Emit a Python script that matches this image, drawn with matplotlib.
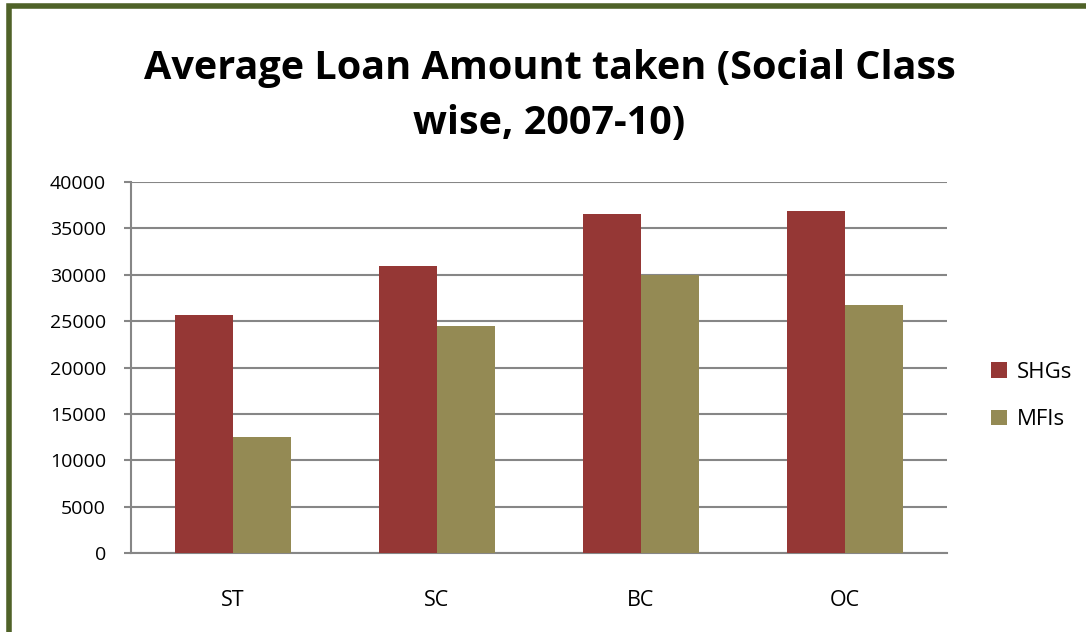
import numpy as np
import matplotlib.pyplot as plt
from matplotlib.patches import Rectangle

# average loan amount by social class
classes = ['ST', 'SC', 'BC', 'OC']
shgs = [25700, 30900, 36600, 36900]
mfis = [12500, 24500, 30000, 26700]
yticks = [0, 5000, 10000, 15000, 20000, 25000, 30000, 35000, 40000]

red = '#953735'
olive = '#948A54'
grid = '#868686'

plt.rcParams['font.family'] = ['Open Sans', 'DejaVu Sans']

fig = plt.figure(figsize=(10.86, 6.32), dpi=100)
ax = fig.add_axes([0.1206, 0.125, 0.7514, 0.587])

x = np.arange(len(classes))
w = 0.286
ax.bar(x - w / 2, shgs, w, color=red, label='SHGs', zorder=3)
ax.bar(x + w / 2, mfis, w, color=olive, label='MFIs', zorder=3)

ax.set_xlim(-0.5, len(classes) - 0.5)
ax.set_ylim(0, 40000)
ax.set_yticks(yticks)
ax.set_yticklabels([str(v) for v in yticks], fontsize=14)
ax.set_xticks(x)
ax.set_xticklabels(classes, fontsize=15.5)
ax.tick_params(axis='x', length=0, pad=27)
ax.tick_params(axis='y', length=5, color=grid, width=1.5, pad=13)
ax.yaxis.grid(True, color=grid, linewidth=1.5, zorder=0)
ax.set_axisbelow(True)
for s in ['top', 'right']:
    ax.spines[s].set_visible(False)
for s in ['left', 'bottom']:
    ax.spines[s].set_color(grid)
    ax.spines[s].set_linewidth(1.5)

ax.legend(loc='center left', bbox_to_anchor=(1.03, 0.423), frameon=False,
          fontsize=16, handlelength=0.7, handleheight=0.7,
          labelspacing=1.2, handletextpad=0.45)

fig.text(0.506, 0.848, 'Average Loan Amount taken (Social Class\nwise, 2007-10)',
         ha='center', va='center', fontsize=28.5, fontweight='bold',
         linespacing=1.55)

# outer chart frame, only the top and left edges fall inside the image
fig.patches.append(Rectangle((0.0083, -0.05), 1.2, 1.04, transform=fig.transFigure,
                             fill=False, edgecolor='#4F6228', linewidth=4))

fig.savefig('out.png', dpi=100)
